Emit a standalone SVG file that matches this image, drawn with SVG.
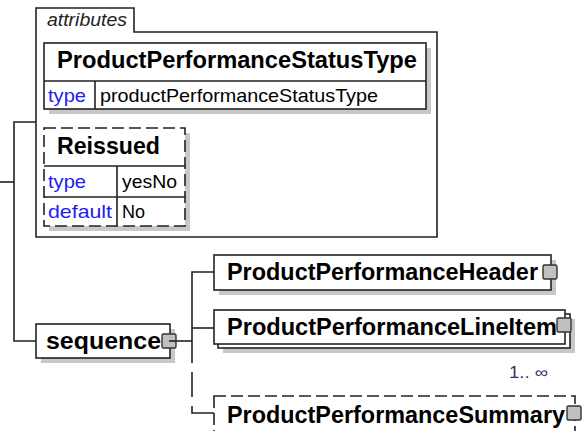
<svg xmlns="http://www.w3.org/2000/svg" width="582" height="431" viewBox="0 0 582 431">
<style>
.box{fill:#fff;stroke:#222;stroke-width:1.6}
.dash{stroke-dasharray:12 5}
.shadow{fill:#c8c8c8}
.ln{fill:none;stroke:#222;stroke-width:1.6}
.sq{fill:#c0c0c0;stroke:#333;stroke-width:1.4}
.b{font-family:"Liberation Sans",Arial,sans-serif;font-weight:bold;font-size:23px;fill:#000}
.r{font-family:"Liberation Sans",Arial,sans-serif;font-size:18.5px;fill:#000}
.k{font-family:"Liberation Sans",Arial,sans-serif;font-size:18.5px;fill:#2020f0}
.it{font-family:"Liberation Sans",Arial,sans-serif;font-style:italic;font-size:17.5px;fill:#222}
.occ{font-family:"Liberation Sans",Arial,sans-serif;font-size:16px;fill:#333366}
</style>
<g id="connectors">
<path class="ln" d="M0 182H14"/>
<path class="ln" d="M36 122H14V341H36"/>
<path class="ln" d="M170 341H192"/>
<path class="ln" d="M214 272H192V363"/>
<path class="ln" d="M192 328H214"/>
<path class="ln" d="M192 372V397"/>
<path class="ln" d="M192 406V413H214"/>
</g>
<g id="attributes">
<path class="box" d="M36 237V8H134V32H437V237Z"/>
<text class="it" x="47" y="26" textLength="80" lengthAdjust="spacingAndGlyphs">attributes</text>
</g>
<g id="ProductPerformanceStatusType">
<rect class="shadow" x="49" y="48" width="382" height="66"/>
<rect class="box" x="44" y="43" width="382" height="66"/>
<path class="ln" d="M44 81H426M95 81V109"/>
<text class="b" x="57" y="68" textLength="360" lengthAdjust="spacingAndGlyphs">ProductPerformanceStatusType</text>
<text class="k" x="48" y="102" textLength="38" lengthAdjust="spacingAndGlyphs">type</text>
<text class="r" x="100" y="102" textLength="278" lengthAdjust="spacingAndGlyphs">productPerformanceStatusType</text>
</g>
<g id="Reissued">
<rect class="shadow" x="49" y="133" width="141" height="98"/>
<rect class="box dash" x="44" y="128" width="141" height="98"/>
<path class="ln" d="M44 166H185M44 197H185M117 166V226"/>
<text class="b" x="57" y="154" textLength="103" lengthAdjust="spacingAndGlyphs">Reissued</text>
<text class="k" x="48" y="188" textLength="38" lengthAdjust="spacingAndGlyphs">type</text>
<text class="r" x="122" y="188" textLength="55" lengthAdjust="spacingAndGlyphs">yesNo</text>
<text class="k" x="48" y="218" textLength="64" lengthAdjust="spacingAndGlyphs">default</text>
<text class="r" x="122" y="218" textLength="23" lengthAdjust="spacingAndGlyphs">No</text>
</g>
<g id="sequence">
<rect class="shadow" x="41" y="329" width="134" height="34"/>
<rect class="box" x="36" y="324" width="134" height="34"/>
<text class="b" x="46" y="349" textLength="115" lengthAdjust="spacingAndGlyphs">sequence</text>
<rect class="sq" x="162" y="334" width="14" height="14" rx="1.5"/>
<path class="ln" d="M169 341H176"/>
</g>
<g id="ProductPerformanceHeader">
<rect class="shadow" x="219" y="260" width="337" height="35"/>
<rect class="box" x="214" y="255" width="337" height="35"/>
<text class="b" x="227" y="280" textLength="311" lengthAdjust="spacingAndGlyphs">ProductPerformanceHeader</text>
<rect class="sq" x="543" y="265" width="14" height="14" rx="1.5"/>
</g>
<g id="ProductPerformanceLineItem">
<rect class="shadow" x="223" y="319" width="352" height="34"/>
<rect class="box" x="218" y="314" width="352" height="34"/>
<rect class="box" x="214" y="310" width="351" height="34"/>
<text class="b" x="227" y="335" textLength="330" lengthAdjust="spacingAndGlyphs">ProductPerformanceLineItem</text>
<rect class="sq" x="557" y="318" width="14" height="14" rx="1.5"/>
<text class="occ" x="509" y="378" textLength="39" lengthAdjust="spacingAndGlyphs">1.. ∞</text>
</g>
<g id="ProductPerformanceSummary">
<rect class="box dash" x="214" y="396" width="361" height="36"/>
<text class="b" x="227" y="423" textLength="338" lengthAdjust="spacingAndGlyphs">ProductPerformanceSummary</text>
<rect class="sq" x="567" y="406" width="14" height="14" rx="1.5"/>
</g>
</svg>
